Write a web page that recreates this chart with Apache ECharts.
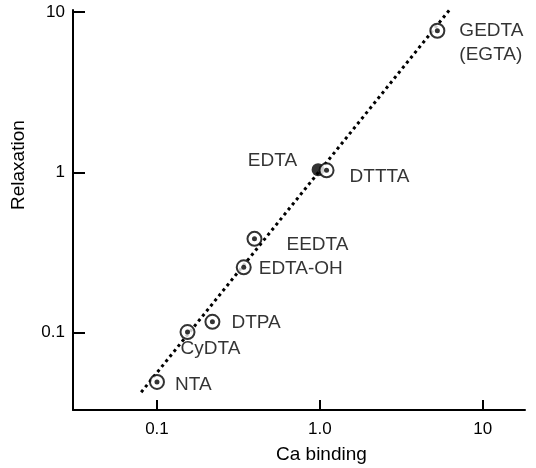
<!DOCTYPE html>
<html>
<head>
<meta charset="utf-8">
<script src="https://cdn.jsdelivr.net/npm/echarts@6/dist/echarts.min.js"></script>
<style>html,body{margin:0;padding:0;background:#fff}#c{width:536px;height:468px}</style>
</head>
<body>
<div id="c"></div>
<script>
// Data
var names = ['NTA', 'CyDTA', 'DTPA', 'EDTA-OH', 'EEDTA', 'DTTTA', 'GEDTA\n(EGTA)'];
var caBinding = [0.1, 0.154, 0.219, 0.341, 0.397, 1.10, 5.27];
var relaxation = [0.0494, 0.101, 0.117, 0.256, 0.385, 1.03, 7.64];
var edtaName = 'EDTA';
var edtaCa = 0.976;
var edtaRelax = 1.04;
var fitX = [0.08, 6.4];
var fitY = [0.0426, 10.6];
var xTicks = [0.1, 1, 10];
var xTickLabels = ['0.1', '1.0', '10'];
var yTicks = [0.1, 1, 10];
var yTickLabels = ['0.1', '1', '10'];

// label placement (style only)
var labelOffsets = [[18, 3], [-7, 17], [19, 1], [15, 1], [32, 6], [23, 6], [22, 12]];

var FONT = 'Liberation Sans, Arial, Helvetica, sans-serif';
var chart = echarts.init(document.getElementById('c'));

var openData = caBinding.map(function (x, i) {
  return {
    value: [x, relaxation[i]],
    name: names[i],
    label: {
      show: true, position: 'inside', align: 'left', verticalAlign: 'middle',
      offset: labelOffsets[i], formatter: '{b}', color: '#000',
      fontFamily: FONT, fontSize: 19, lineHeight: 24
    }
  };
});
var dotData = caBinding.map(function (x, i) { return [x, relaxation[i]]; });

chart.setOption({
  animation: false,
  backgroundColor: '#fff',
  grid: { left: 73, right: 11, top: 10, bottom: 58 },
  xAxis: {
    type: 'log', logBase: 10, min: 0.0305, max: 18.2,
    axisLine: { show: true, lineStyle: { color: '#000', width: 2 } },
    axisTick: { show: true, inside: true, length: 10, lineStyle: { color: '#000', width: 2 }, customValues: xTicks },
    axisLabel: {
      show: true, customValues: xTicks, margin: 11, color: '#000', fontFamily: FONT, fontSize: 17,
      formatter: function (v) { var i = xTicks.indexOf(v); return i >= 0 ? xTickLabels[i] : ''; }
    },
    splitLine: { show: false }
  },
  yAxis: {
    type: 'log', logBase: 10, min: 0.033, max: 10.29,
    axisLine: { show: true, lineStyle: { color: '#000', width: 2 } },
    axisTick: { show: true, inside: true, length: 12, lineStyle: { color: '#000', width: 2 }, customValues: yTicks },
    axisLabel: {
      show: true, customValues: yTicks, margin: 8, color: '#000', fontFamily: FONT, fontSize: 17,
      formatter: function (v) { var i = yTicks.indexOf(v); return i >= 0 ? yTickLabels[i] : ''; }
    },
    splitLine: { show: false }
  },
  graphic: [
    { type: 'text', left: 276, top: 445, style: { text: 'Ca binding', font: '19px ' + FONT, fill: '#000' } },
    { type: 'text', x: 9, y: 210, rotation: Math.PI / 2, style: { text: 'Relaxation', font: '19px ' + FONT, fill: '#000' } }
  ],
  series: [
    {
      type: 'line', data: fitX.map(function (x, i) { return [x, fitY[i]]; }),
      symbol: 'none', clip: false, z: 1,
      lineStyle: { color: '#000', width: 3, type: [3, 3.5] }
    },
    {
      type: 'scatter', data: [{ value: [edtaCa, edtaRelax], name: edtaName }],
      symbol: 'circle', symbolSize: 13, z: 2,
      itemStyle: { color: '#000' },
      label: { show: true, position: 'inside', align: 'right', verticalAlign: 'middle', offset: [-21, -9],
        formatter: '{b}', color: '#000', fontFamily: FONT, fontSize: 19 }
    },
    {
      type: 'scatter', data: openData, symbol: 'circle', symbolSize: 14, z: 3,
      itemStyle: { color: '#fff', borderColor: '#000', borderWidth: 2 }
    },
    {
      type: 'scatter', data: dotData, symbol: 'circle', symbolSize: 5, z: 4, silent: true,
      itemStyle: { color: '#000' }
    }
  ]
});
</script>
</body>
</html>
